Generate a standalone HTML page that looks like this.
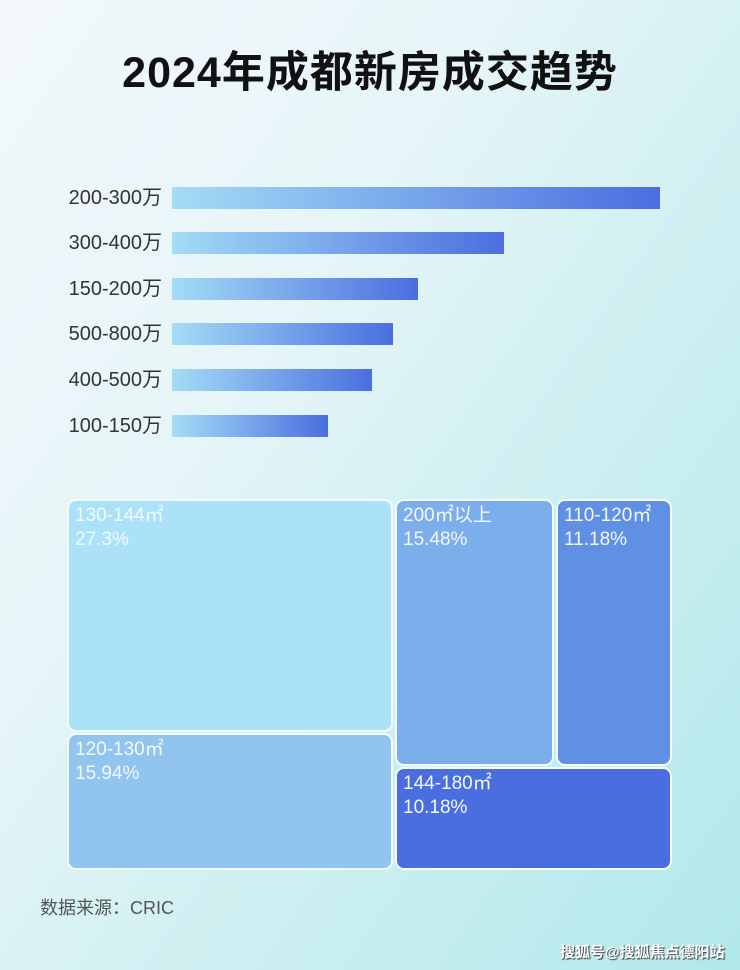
<!DOCTYPE html>
<html><head><meta charset="utf-8"><style>
*{margin:0;padding:0;box-sizing:border-box}
body{width:740px;height:970px;overflow:hidden;position:relative;font-family:"Liberation Sans","Noto Sans CJK SC",sans-serif;
background:linear-gradient(125deg,#f3f8fb 0%,#e6f5f8 35%,#c8eef0 70%,#b2e8ea 100%);}
.t{position:absolute;top:38px;left:0;width:740px;text-align:center;font-size:43px;font-weight:bold;color:#111;letter-spacing:1px}
.l{position:absolute;left:40px;font-size:20px;color:#333;width:122px;text-align:right;line-height:22px}
.b{position:absolute;left:172px;height:22px;background:linear-gradient(90deg,#a4dcf6,#4a6edf)}
.r{position:absolute;border:2px solid #f4fbfd;border-radius:9px;color:#f4f8ff;font-size:19px;line-height:24px;padding:3px 6px}
.f{position:absolute;left:40px;top:894px;font-size:18px;color:#555}
.w{position:absolute;left:560px;top:941px;font-size:15px;font-weight:bold;color:#fff;text-shadow:1px 1px 1px #333;white-space:nowrap}
</style></head><body>
<div class="t">2024年成都新房成交趋势</div>
<div class="l" style="top:187px">200-300万</div><div class="b" style="top:187px;width:488px"></div>
<div class="l" style="top:232px">300-400万</div><div class="b" style="top:232px;width:332px"></div>
<div class="l" style="top:278px">150-200万</div><div class="b" style="top:278px;width:246px"></div>
<div class="l" style="top:323px">500-800万</div><div class="b" style="top:323px;width:221px"></div>
<div class="l" style="top:369px">400-500万</div><div class="b" style="top:369px;width:200px"></div>
<div class="l" style="top:415px">100-150万</div><div class="b" style="top:415px;width:156px"></div>
<div class="r" style="left:67px;top:499px;width:326px;height:233px;background:#ace2f8">130-144㎡<br>27.3%</div>
<div class="r" style="left:67px;top:733px;width:326px;height:137px;background:#92c4f0">120-130㎡<br>15.94%</div>
<div class="r" style="left:395px;top:499px;width:159px;height:267px;background:#7caeec">200㎡以上<br>15.48%</div>
<div class="r" style="left:556px;top:499px;width:116px;height:267px;background:#6090e4">110-120㎡<br>11.18%</div>
<div class="r" style="left:395px;top:767px;width:277px;height:103px;background:#4a6ddf">144-180㎡<br>10.18%</div>
<div class="f">数据来源：CRIC</div>
<div class="w">搜狐号@搜狐焦点德阳站</div>
</body></html>
